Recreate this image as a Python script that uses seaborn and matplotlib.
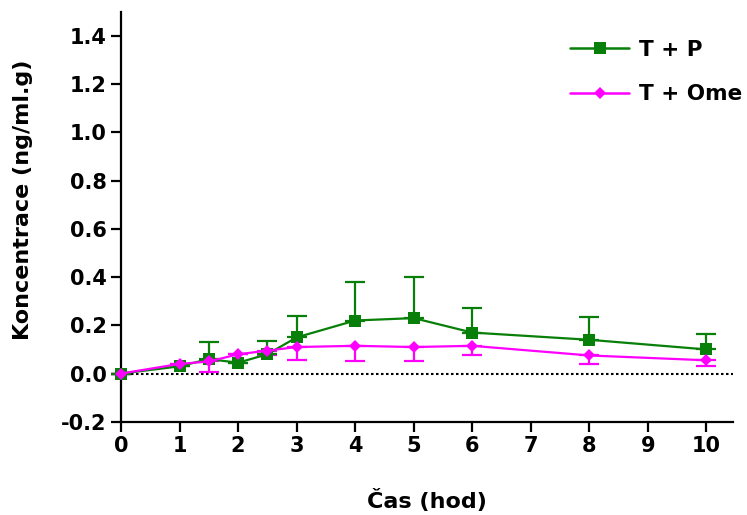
import matplotlib
matplotlib.use("Agg")
import matplotlib.pyplot as plt
import seaborn as sns
import pandas as pd
import numpy as np

time = [0, 1, 1.5, 2, 2.5, 3, 4, 5, 6, 8, 10]
tp_mean = [0.0, 0.03, 0.06, 0.045, 0.08, 0.15, 0.22, 0.23, 0.17, 0.14, 0.10]
tp_err = [0.0, 0.0, 0.07, 0.0, 0.055, 0.09, 0.16, 0.17, 0.10, 0.095, 0.065]
tome_mean = [0.0, 0.04, 0.05, 0.08, 0.095, 0.11, 0.115, 0.11, 0.115, 0.075, 0.055]
tome_err = [0.0, 0.0, 0.045, 0.0, 0.02, 0.055, 0.065, 0.06, 0.04, 0.035, 0.025]

series_names = ["T + P", "T + Ome"]
colors = {"T + P": "#087F08", "T + Ome": "#FF00FF"}
markers = {"T + P": "s", "T + Ome": "D"}
y_ticks = [-0.2, 0.0, 0.2, 0.4, 0.6, 0.8, 1.0, 1.2, 1.4]
x_ticks = list(range(0, 11))

df = pd.concat([
    pd.DataFrame({"time": time, "mean": tp_mean, "err": tp_err, "series": series_names[0]}),
    pd.DataFrame({"time": time, "mean": tome_mean, "err": tome_err, "series": series_names[1]}),
])

sns.set_style("ticks", {"axes.edgecolor": "black", "text.color": "black",
                        "axes.labelcolor": "black", "xtick.color": "black",
                        "ytick.color": "black"})
plt.rcParams["font.family"] = ["DejaVu Sans"]
plt.rcParams["font.weight"] = "bold"

fig = plt.figure(figsize=(7.47, 5.15), dpi=100)
ax = fig.add_axes([0.162, 0.181, 0.819, 0.796])

ax.axhline(0, color="black", linestyle=(0, (1.2, 1.2)), linewidth=1.5, zorder=1)

# error bars: green upward, magenta downward
sub = df[df.series == "T + Ome"]
ax.errorbar(sub["time"], sub["mean"], yerr=[sub["err"], np.zeros(len(sub))], fmt="none",
            ecolor=colors["T + Ome"], elinewidth=1.6, capsize=7, capthick=1.6, zorder=2, clip_on=False)
sub = df[df.series == "T + P"]
ax.errorbar(sub["time"], sub["mean"], yerr=[np.zeros(len(sub)), sub["err"]], fmt="none",
            ecolor=colors["T + P"], elinewidth=1.6, capsize=7, capthick=1.6, zorder=3, clip_on=False)

sns.lineplot(data=df, x="time", y="mean", hue="series", style="series",
             palette=colors, markers=markers, dashes=False, markersize=8.5,
             markeredgewidth=0, linewidth=1.6, ax=ax, zorder=4, clip_on=False,
             hue_order=series_names, style_order=series_names)

for ln in ax.get_lines():
    if ln.get_marker() == "D":
        ln.set_markersize(6.5)

ax.set_xlim(0, 10.45)
ax.set_ylim(-0.2, 1.5)
ax.set_xticks(x_ticks)
ax.set_yticks(y_ticks)
ax.set_yticklabels([f"{v:.1f}" for v in y_ticks])
sns.despine(ax=ax)
for sp in ["left", "bottom"]:
    ax.spines[sp].set_linewidth(1.6)
    ax.spines[sp].set_color("black")
ax.tick_params(axis="both", width=1.6, length=7.5, labelsize=15, direction="out", pad=3,
               colors="black", labelcolor="black")
for lab in ax.get_xticklabels() + ax.get_yticklabels():
    lab.set_fontweight("bold")

ax.set_xlabel("Čas (hod)", fontsize=16, fontweight="bold", color="black")
ax.set_ylabel("Koncentrace (ng/ml.g)", fontsize=16, fontweight="bold", color="black")
ax.xaxis.set_label_coords(0.5, -0.164)
ax.yaxis.set_label_coords(-0.144, 0.541)

leg = ax.legend(loc="upper left", frameon=False, fontsize=15.5, handlelength=2.75,
                handletextpad=0.45, borderpad=0, borderaxespad=0, labelspacing=1.13,
                bbox_to_anchor=(570 / 747, 1 - 40 / 515), bbox_transform=fig.transFigure)
for t in leg.get_texts():
    t.set_fontweight("bold")
    t.set_color("black")
for h in leg.legend_handles:
    h.set_linewidth(1.8)

fig.savefig("out.png", dpi=100)
